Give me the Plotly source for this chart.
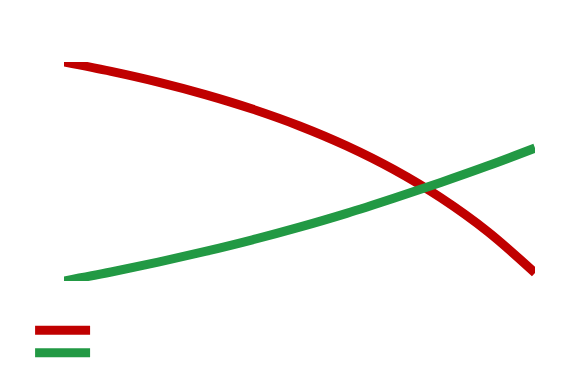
import plotly.graph_objects as go

x_vals = [0, 1, 2, 3, 4, 5, 6, 7, 8, 9, 10]
red_vals = [100, 95.7, 90.8, 85.1, 78.5, 70.8, 61.7, 50.9, 38.0, 22.5, 3.7]
green_vals = [0, 4.1, 8.6, 13.5, 18.8, 24.6, 30.9, 37.8, 45.0, 52.6, 60.7]
series_names = ["", ""]

fig = go.Figure()
fig.add_trace(go.Scatter(x=x_vals, y=red_vals, mode="lines", name=series_names[0],
                         line=dict(color="#c00000", width=9, shape="spline")))
fig.add_trace(go.Scatter(x=x_vals, y=green_vals, mode="lines", name=series_names[1],
                         line=dict(color="#229944", width=9, shape="spline")))

fig.update_layout(
    width=580, height=381,
    margin=dict(l=56, r=53, t=54, b=108, autoexpand=False),
    paper_bgcolor="white", plot_bgcolor="white",
    xaxis=dict(visible=False, range=[0, 10]),
    yaxis=dict(visible=False, range=[0, 100]),
    showlegend=True,
    legend=dict(x=-0.072, y=-0.151, xanchor="left", yanchor="top", itemwidth=55,
                font=dict(size=15), bgcolor="rgba(0,0,0,0)"),
)
fig.write_html("out.html")
